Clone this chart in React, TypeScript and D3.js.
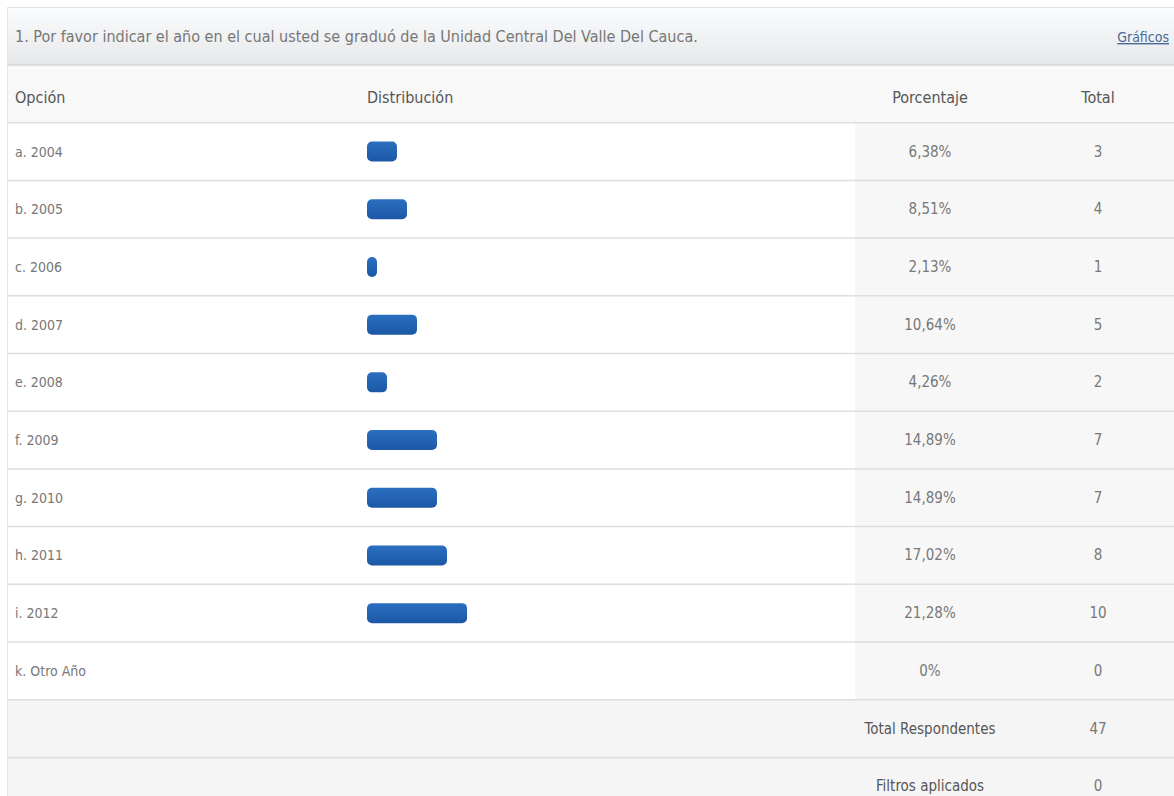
import React from "react";
import * as d3 from "d3";

const title = "1. Por favor indicar el año en el cual usted se graduó de la Unidad Central Del Valle Del Cauca.";
const headers = ["Opción", "Distribución", "Porcentaje", "Total"];
const options = ["a. 2004", "b. 2005", "c. 2006", "d. 2007", "e. 2008", "f. 2009", "g. 2010", "h. 2011", "i. 2012", "k. Otro Año"];
const percentages = [6.38, 8.51, 2.13, 10.64, 4.26, 14.89, 14.89, 17.02, 21.28, 0];
const totals = [3, 4, 1, 5, 2, 7, 7, 8, 10, 0];
const summaryLabels = ["Total Respondentes", "Filtros aplicados"];
const summaryValues = ["47", "0"];

const W = 1174;
const H = 796;
const FONT = "'Liberation Sans Narrow', 'Arial Narrow', 'DejaVu Sans Condensed', sans-serif";

export default function App() {
  const left = 7;
  const headTop = 7;
  const headBottom = 65;
  const rowH = 57.7;
  const firstRowTop = headBottom + rowH;
  const nRows = options.length + summaryLabels.length;
  const y = d3.scaleLinear().domain([0, nRows]).range([firstRowTop, firstRowTop + nRows * rowH]);
  const x = d3.scaleLinear().domain([0, 100]).range([0, 470]);
  const barX = 367;
  const barH = 20;
  const pctCol = 855;
  const pctCenter = 930;
  const totCenter = 1098;
  const fmt = (v: number) => (v === 0 ? "0%" : v.toFixed(2).replace(".", ",") + "%");

  return (
    <svg width={W} height={H} style={{ position: "absolute", left: 0, top: 0, background: "#fff" }} fontFamily={FONT}>
      <defs>
        <linearGradient id="hdr" x1="0" x2="0" y1="0" y2="1">
          <stop offset="0" stopColor="#fbfcfd" />
          <stop offset="1" stopColor="#e6e8ea" />
        </linearGradient>
        <linearGradient id="bar" x1="0" x2="0" y1="0" y2="1">
          <stop offset="0" stopColor="#2b6fc0" />
          <stop offset="1" stopColor="#1b58a6" />
        </linearGradient>
      </defs>
      <rect x={0} y={0} width={W} height={H} fill="#fff" />
      <rect x={left} y={headTop} width={W - left} height={headBottom - headTop} fill="url(#hdr)" />
      <line x1={left} x2={W} y1={headTop + 0.5} y2={headTop + 0.5} stroke="#dcdfe3" />
      <line x1={left + 0.5} x2={left + 0.5} y1={headTop} y2={H} stroke="#e6e6e6" />
      <line x1={left} x2={W} y1={headBottom} y2={headBottom} stroke="#d2d4d6" strokeWidth={1.5} />
      <text x={15} y={42} fontSize={16} fill="#777">{title}</text>
      <text x={1169} y={42} fontSize={14} fill="#4a6a9a" textAnchor="end" textDecoration="underline">Gráficos</text>
      <rect x={left + 1} y={headBottom + 1} width={W - left} height={rowH - 1} fill="#f8f8f8" />
      <text x={15} y={103} fontSize={16} fill="#555">{headers[0]}</text>
      <text x={367} y={103} fontSize={16} fill="#555">{headers[1]}</text>
      <text x={pctCenter} y={103} fontSize={16} fill="#555" textAnchor="middle">{headers[2]}</text>
      <text x={totCenter} y={103} fontSize={16} fill="#555" textAnchor="middle">{headers[3]}</text>
      <rect x={pctCol} y={y(0)} width={W - pctCol} height={y(options.length) - y(0)} fill="#f7f7f7" />
      {summaryLabels.map((_, i) => (
        <rect key={"s" + i} x={left + 1} y={y(options.length + i)} width={W - left} height={rowH} fill="#f5f5f5" />
      ))}
      {d3.range(0, nRows + 1).map((i) => (
        <line key={"l" + i} x1={left} x2={W} y1={y(i)} y2={y(i)} stroke="#dedede" strokeWidth={1.5} />
      ))}
      {options.map((o, i) => {
        const cy = (y(i) + y(i + 1)) / 2;
        const w = x(percentages[i]);
        return (
          <g key={o}>
            <text x={15} y={cy + 5} fontSize={14} fill="#777">{o}</text>
            {w > 0 && (
              <rect x={barX} y={cy - barH / 2} width={w} height={barH} rx={5} ry={5} fill="url(#bar)" />
            )}
            <text x={pctCenter} y={cy + 5} fontSize={15} fill="#777" textAnchor="middle">{fmt(percentages[i])}</text>
            <text x={totCenter} y={cy + 5} fontSize={15} fill="#777" textAnchor="middle">{totals[i]}</text>
          </g>
        );
      })}
      {summaryLabels.map((s, i) => {
        const cy = (y(options.length + i) + y(options.length + i + 1)) / 2;
        return (
          <g key={s}>
            <text x={pctCenter} y={cy + 5} fontSize={15} fill="#555" textAnchor="middle">{s}</text>
            <text x={totCenter} y={cy + 5} fontSize={15} fill="#777" textAnchor="middle">{summaryValues[i]}</text>
          </g>
        );
      })}
    </svg>
  );
}
